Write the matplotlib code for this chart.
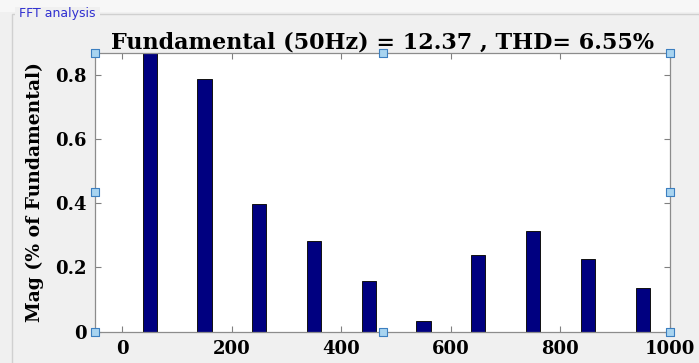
import numpy as np
import matplotlib
matplotlib.use("Agg")
from matplotlib import pyplot as plt
from matplotlib.patches import Rectangle

# harmonic frequencies (Hz) and magnitudes
freq = [50, 150, 250, 350, 450, 550, 650, 750, 850, 950]
mag = [1.0, 0.787, 0.397, 0.282, 0.158, 0.034, 0.238, 0.313, 0.226, 0.136]
xticks = [0, 200, 400, 600, 800, 1000]
yticks = [0, 0.2, 0.4, 0.6, 0.8]
ytick_labels = ["0", "0.2", "0.4", "0.6", "0.8"]
title = "Fundamental (50Hz) = 12.37 , THD= 6.55%"

serif = ["DejaVu Serif"]

fig = plt.figure(figsize=(6.99, 3.63), dpi=100)
fig.patch.set_facecolor("#f0f0f0")

# lighter strip above the panel
fig.patches.append(Rectangle((0, 1 - 12/363), 1, 12/363, transform=fig.transFigure,
                             facecolor="#f7f7f7", edgecolor="none"))
# panel frame with its caption
fig.patches.append(Rectangle((12/699, -0.1), 1.0, (363-14)/363 + 0.1, transform=fig.transFigure,
                             fill=False, edgecolor="#d0d0d0", lw=1.0))
fig.text(15/699, 1 - 14/363, " FFT analysis ", color="#2f2fd0", fontsize=9,
         family="DejaVu Sans", va="center", ha="left",
         bbox=dict(facecolor="#f0f0f0", edgecolor="none", pad=0.3))

ax = fig.add_axes([95/699, 1 - 331.7/363, 575/699, (331.7-53)/363])
ax.set_facecolor("white")
ax.bar(freq, mag, width=26, color="#000080", edgecolor="#111111", linewidth=0.7)

ax.set_xlim(-50, 1000)
ax.set_ylim(0, 0.8675)
ax.set_xticks(xticks)
ax.set_yticks(yticks)
ax.set_yticklabels(ytick_labels)
ax.tick_params(direction="in", top=True, right=True, length=4, width=0.8,
               color="#808080", pad=6)
for lab in ax.get_xticklabels() + ax.get_yticklabels():
    lab.set_family(serif)
    lab.set_fontweight("bold")
    lab.set_fontsize(13)
for s in ax.spines.values():
    s.set_color("#8c8c8c")
    s.set_linewidth(0.9)

ax.set_title(title, family=serif, fontweight="bold", fontsize=16, pad=3)
ax.set_ylabel("Mag (% of Fundamental)", family=serif, fontweight="bold", fontsize=13.5, labelpad=8)

# selection handles on the axes box
hx = [0, 0.5, 1, 0, 1, 0, 0.5, 1]
hy = [1, 1, 1, 0.5, 0.5, 0, 0, 0]
ax.scatter(hx, hy, marker="s", s=26, facecolor="#a8d4f0", edgecolor="#3c7fc0",
           linewidth=0.8, transform=ax.transAxes, clip_on=False, zorder=5)

fig.savefig("out.png", dpi=100, facecolor=fig.get_facecolor())
